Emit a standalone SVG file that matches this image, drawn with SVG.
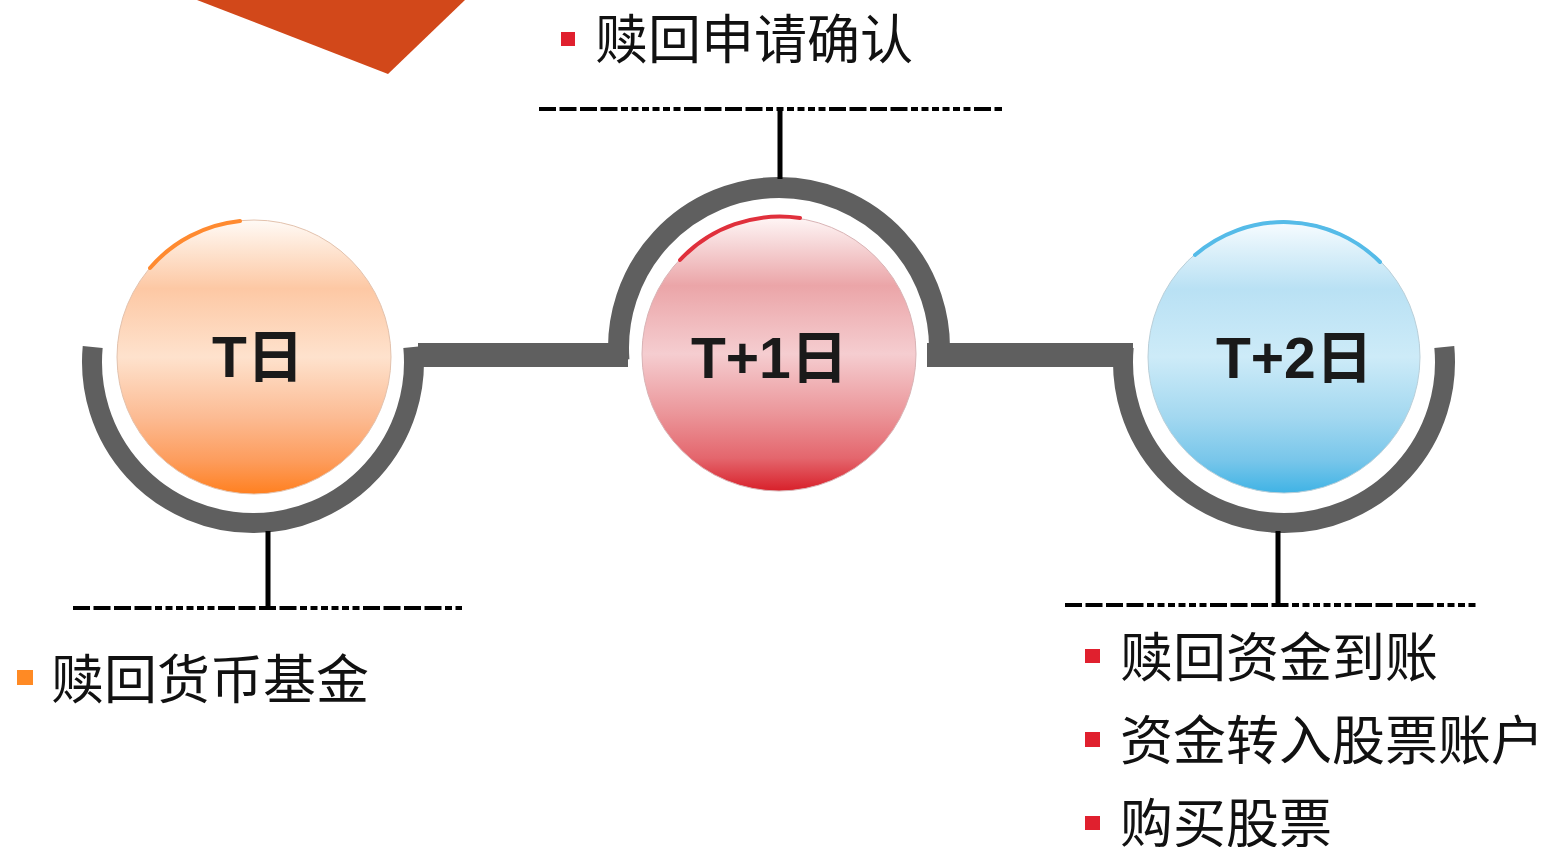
<svg xmlns="http://www.w3.org/2000/svg" width="1545" height="847" viewBox="0 0 1545 847">
  <defs>
    <style>
      .track { fill: none; stroke: #5f5f5f; stroke-width: 20; stroke-linecap: butt; }
      .bar { fill: #5f5f5f; }
      .stem { stroke: #000; stroke-width: 5; }
      .dash { stroke: #000; stroke-width: 4; stroke-dasharray: 17 3.5 17 3.5 17 3.5 17 3.5 7 3.5 7 3.5 7 3.5 7 3.5 7 3.5 7 3.5; }
      .day { font-family: "Liberation Sans", "Noto Sans CJK SC", sans-serif; font-weight: bold; font-size: 57px; fill: #1a1a1a; }
      .item { font-family: "Noto Sans CJK SC", "Noto Sans", sans-serif; font-size: 53px; fill: #111; }
      .rim { fill: none; stroke-width: 4; stroke-linecap: round; }
    </style>
    <linearGradient id="gOrange" x1="0" y1="0" x2="0" y2="1">
      <stop offset="0" stop-color="#fffaf6"/>
      <stop offset="0.1" stop-color="#fee6d4"/>
      <stop offset="0.25" stop-color="#fdc8a4"/>
      <stop offset="0.5" stop-color="#fee2cd"/>
      <stop offset="0.72" stop-color="#fcbb93"/>
      <stop offset="0.88" stop-color="#fd9c5c"/>
      <stop offset="1" stop-color="#ff8020"/>
    </linearGradient>
    <linearGradient id="gRed" x1="0" y1="0" x2="0" y2="1">
      <stop offset="0" stop-color="#fff6f6"/>
      <stop offset="0.1" stop-color="#f6d6d7"/>
      <stop offset="0.25" stop-color="#eba5a8"/>
      <stop offset="0.5" stop-color="#f5cdd0"/>
      <stop offset="0.72" stop-color="#eb9599"/>
      <stop offset="0.88" stop-color="#e4666d"/>
      <stop offset="1" stop-color="#d8202a"/>
    </linearGradient>
    <linearGradient id="gBlue" x1="0" y1="0" x2="0" y2="1">
      <stop offset="0" stop-color="#f8fcff"/>
      <stop offset="0.1" stop-color="#def1fa"/>
      <stop offset="0.25" stop-color="#b9e1f4"/>
      <stop offset="0.5" stop-color="#cdebf8"/>
      <stop offset="0.72" stop-color="#a3d8f0"/>
      <stop offset="0.88" stop-color="#78c6ea"/>
      <stop offset="1" stop-color="#40b3e5"/>
    </linearGradient>
  </defs>

  <g id="decor">
    <polygon points="197,0 465,0 388,74" fill="#d2481a"/>
  </g>

  <g id="connectors">
    <path class="track" d="M92.7 347 A161 161 0 1 0 413.3 347"/>
    <path class="track" style="stroke-width:21" d="M618.95 360 A160.5 160.5 0 1 1 939.05 360"/>
    <path class="track" d="M1123.7 347 A161 161 0 1 0 1444.3 347"/>
    <rect class="bar" x="418" y="343" width="210" height="24"/>
    <rect class="bar" x="927" y="343" width="206" height="24"/>
    <line class="stem" x1="780" y1="109" x2="780" y2="179"/>
    <line class="stem" x1="268" y1="531" x2="268" y2="608"/>
    <line class="stem" x1="1278" y1="531" x2="1278" y2="605"/>
    <line class="dash" x1="539" y1="109" x2="1002" y2="109"/>
    <line class="dash" x1="73" y1="608" x2="462" y2="608"/>
    <line class="dash" x1="1065" y1="605" x2="1479" y2="605"/>
  </g>

  <g id="node-t">
    <circle cx="254" cy="357" r="137" fill="url(#gOrange)" stroke="#e3c2ad" stroke-width="1"/>
    <path class="rim" stroke="#ff8a30" d="M150 268 A137 137 0 0 1 240 221"/>
    <text class="day" x="212" y="377">T日</text>
  </g>

  <g id="node-t1">
    <circle cx="779" cy="354" r="137" fill="url(#gRed)" stroke="#d9b3b5" stroke-width="1"/>
    <path class="rim" stroke="#e0303c" d="M680 260 A137 137 0 0 1 800 218"/>
    <text class="day" x="691" y="378">T+1日</text>
  </g>

  <g id="node-t2">
    <circle cx="1284" cy="357" r="136" fill="url(#gBlue)" stroke="#b9cfd9" stroke-width="1"/>
    <path class="rim" stroke="#55bbe8" d="M1195 255 A136 136 0 0 1 1380 262"/>
    <text class="day" x="1216" y="378">T+2日</text>
  </g>

  <g id="label-t1">
    <rect x="561" y="32" width="14" height="14" fill="#e0202e"/>
    <text class="item" x="595" y="59">赎回申请确认</text>
  </g>

  <g id="label-t">
    <rect x="17" y="670" width="16" height="15" fill="#ff8a24"/>
    <text class="item" x="51" y="699">赎回货币基金</text>
  </g>

  <g id="label-t2">
    <rect x="1085" y="649" width="15" height="14" fill="#e0202e"/>
    <text class="item" x="1120" y="677">赎回资金到账</text>
    <rect x="1085" y="732" width="15" height="15" fill="#e0202e"/>
    <text class="item" x="1120" y="760">资金转入股票账户</text>
    <rect x="1085" y="816" width="15" height="14" fill="#e0202e"/>
    <text class="item" x="1120" y="843">购买股票</text>
  </g>
</svg>
